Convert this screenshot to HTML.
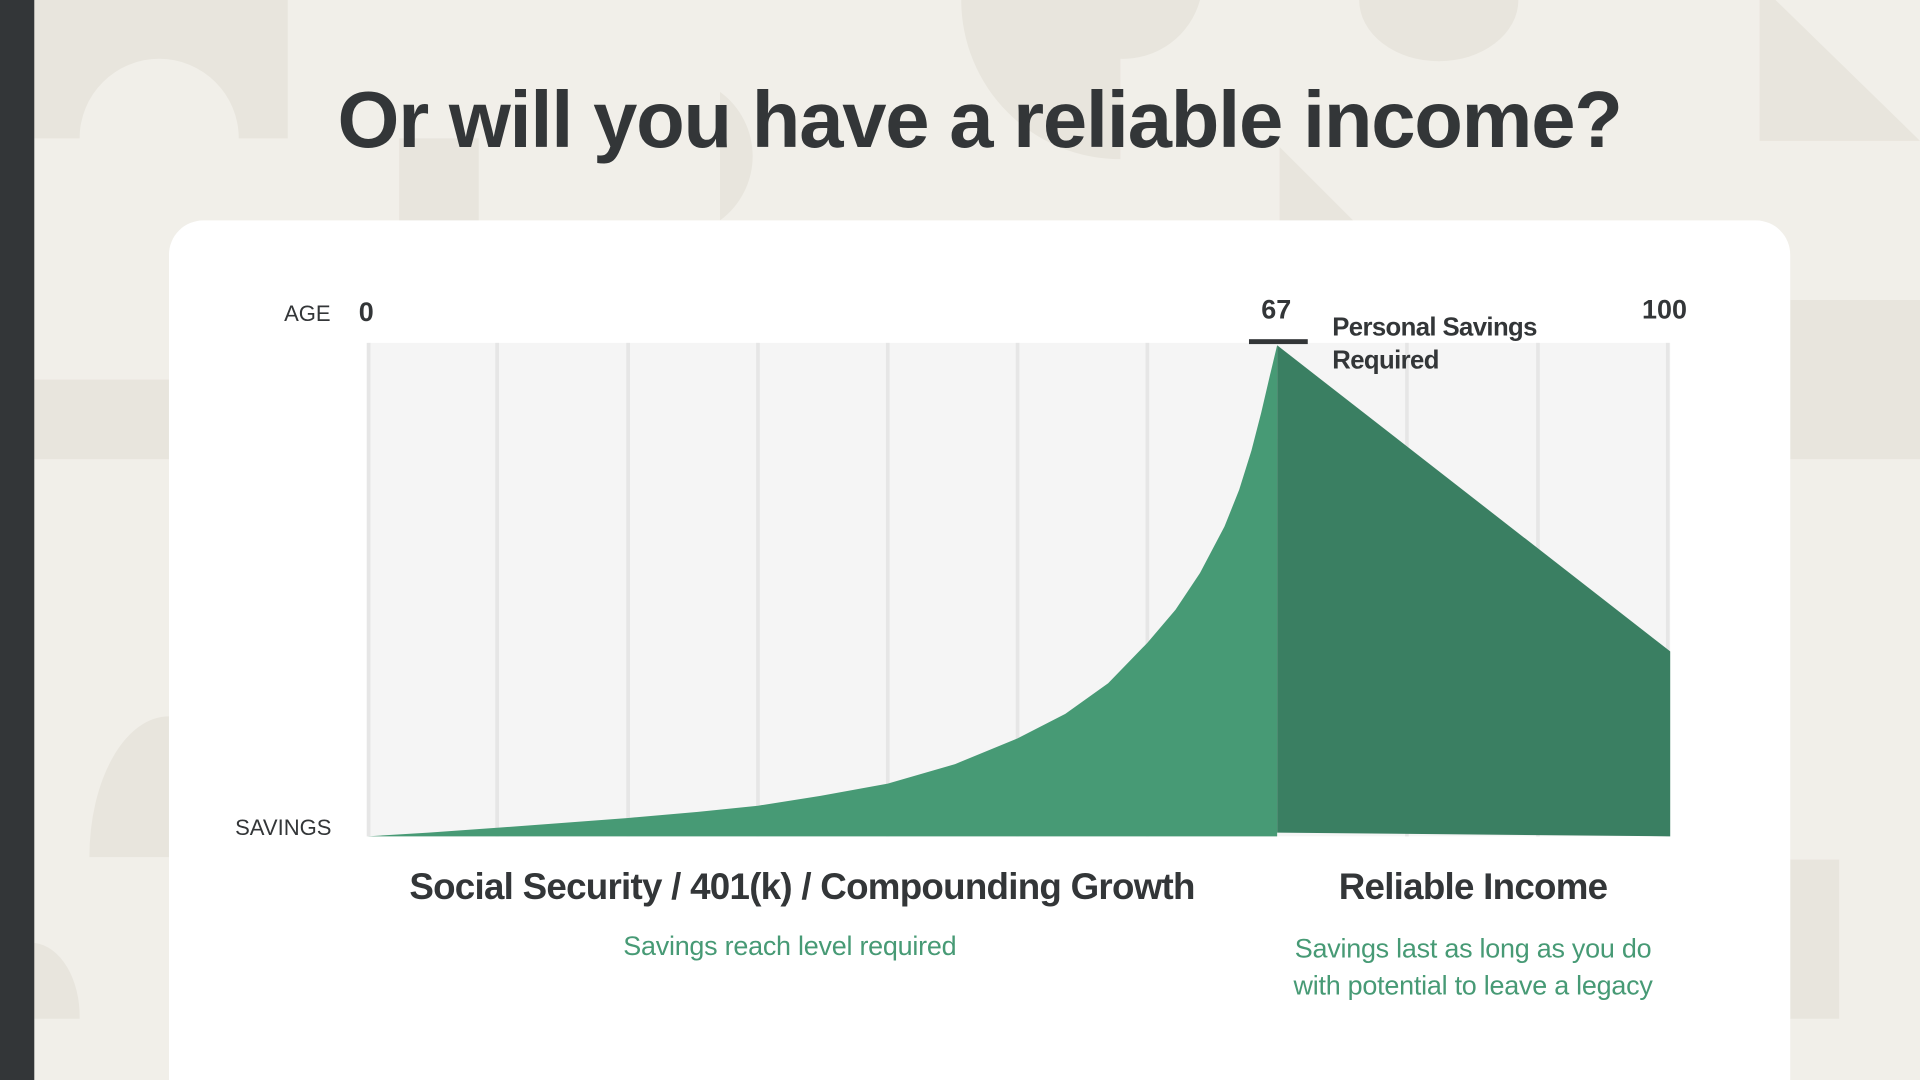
<!DOCTYPE html>
<html><head><meta charset="utf-8"><style>
html,body{margin:0;padding:0;width:1920px;height:1080px;overflow:hidden;background:#f1efe9}
#w{position:absolute;left:0;top:0;width:1568px;height:882px;overflow:hidden;transform:scale(1.22449);transform-origin:0 0;font-family:"Liberation Sans",sans-serif}
.t{position:absolute;white-space:nowrap;color:#333638}
</style></head><body><div id="w">
<svg width="1568" height="882" style="position:absolute;left:0;top:0">
<rect width="1568" height="882" fill="#f1efe9"/>
<g fill="#e8e5dd">
<path d="M28 0 L235 0 L235 113 L195 113 A65 65 0 0 0 65 113 L28 113 Z"/>
<rect x="326" y="113" width="65" height="70"/>
<path d="M588 75 A65 65 0 0 1 588 180 Z"/>
<path d="M785 0 A130 130 0 0 0 915 130 L915 0 Z"/>
<path d="M850 0 A65 65 0 0 0 915 48 A65 65 0 0 0 980 0 Z"/>
<path d="M1110 0 A65 50 0 0 0 1240 0 Z"/>
<path d="M1437 0 L1450 0 L1568 115 L1437 115 Z"/>
<path d="M1045 120 L1110 185 L1045 185 Z"/>
<rect x="28" y="310" width="110" height="65"/>
<rect x="1462" y="245" width="106" height="130"/>
<path d="M138 585 A65 115 0 0 0 73 700 L138 700 Z"/>
<path d="M28 770 A40 60 0 0 1 65 832 L28 832 Z"/>
<rect x="1462" y="702" width="40" height="130"/>
</g>
<rect x="0" y="0" width="28" height="882" fill="#333638"/>
<rect x="138" y="180" width="1324" height="760" rx="28" fill="#fff"/>
<rect x="300" y="280" width="1064" height="403" fill="#f5f5f5"/>
<g stroke="#e6e6e6" stroke-width="3">
<line x1="301" y1="280" x2="301" y2="683"/><line x1="406" y1="280" x2="406" y2="683"/><line x1="513" y1="280" x2="513" y2="683"/><line x1="619" y1="280" x2="619" y2="683"/><line x1="725" y1="280" x2="725" y2="683"/><line x1="831" y1="280" x2="831" y2="683"/><line x1="937" y1="280" x2="937" y2="683"/><line x1="1149" y1="280" x2="1149" y2="683"/><line x1="1256" y1="280" x2="1256" y2="683"/><line x1="1362" y1="280" x2="1362" y2="683"/>
</g>
<path d="M300 683 L350 680 L406 676 L460 672 L513 668 L570 663 L619 658 L670 650 L725 640 L780 624 L831 603 L870 583 L905 558 L937 525 L960 498 L980 468 L1000 430 L1012 400 L1022 368 L1030 337 L1037 307 L1043 282 L1043 683 Z" fill="#479a75"/>
<path d="M1043 282 L1364 532 L1364 683 L1043 680 Z" fill="#3a7f62"/>
<rect x="1020" y="277" width="48" height="4" fill="#333638"/>
</svg>
<div class="t" style="left:0;width:1600px;text-align:center;top:60px;font-size:65px;font-weight:bold;letter-spacing:-1px">Or will you have a reliable income?</div>
<div class="t" style="left:232px;top:246px;font-size:18px">AGE</div>
<div class="t" style="left:293px;top:242px;font-size:22px;font-weight:bold">0</div>
<div class="t" style="left:1030px;top:240px;font-size:22px;font-weight:bold">67</div>
<div class="t" style="left:1341px;top:240px;font-size:22px;font-weight:bold">100</div>
<div class="t" style="left:1088px;top:254px;font-size:21px;font-weight:bold;line-height:27px;letter-spacing:-0.5px">Personal Savings<br>Required</div>
<div class="t" style="left:192px;top:666px;font-size:18px">SAVINGS</div>
<div class="t" style="left:300px;width:710px;text-align:center;top:708px;font-size:30px;font-weight:bold;letter-spacing:-0.6px">Social Security / 401(k) / Compounding Growth</div>
<div class="t" style="left:1043px;width:320px;text-align:center;top:708px;font-size:30px;font-weight:bold;letter-spacing:-0.6px">Reliable Income</div>
<div class="t" style="left:300px;width:690px;text-align:center;top:760px;font-size:22px;color:#479a75;letter-spacing:-0.2px">Savings reach level required</div>
<div class="t" style="left:1043px;width:320px;text-align:center;top:760px;font-size:22px;line-height:30px;color:#479a75;letter-spacing:-0.2px">Savings last as long as you do<br>with potential to leave a legacy</div>
</div></body></html>
